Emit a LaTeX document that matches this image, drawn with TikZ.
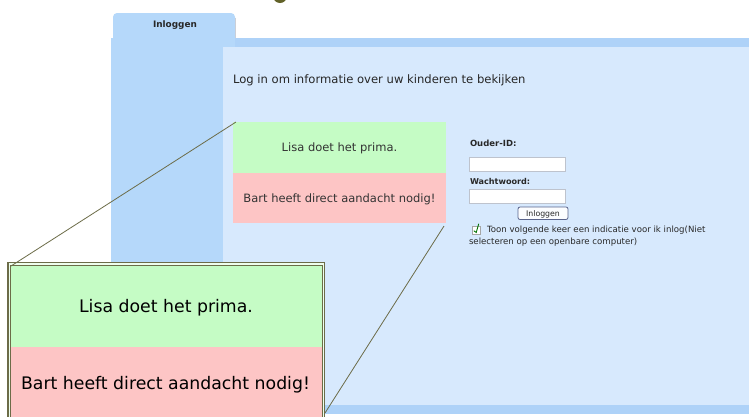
\documentclass[tikz,border=0pt]{standalone}
\usepackage{fontspec}
\setmainfont{DejaVu Sans}
\definecolor{outerblue}{RGB}{181,216,250}
\definecolor{bandblue}{RGB}{174,210,248}
\definecolor{innerblue}{RGB}{215,233,253}
\definecolor{okgreen}{RGB}{197,252,197}
\definecolor{badred}{RGB}{253,197,197}
\definecolor{olivel}{RGB}{108,108,72}
\definecolor{darkolive}{RGB}{98,98,40}
\definecolor{fieldgray}{RGB}{190,195,205}
\definecolor{btnborder}{RGB}{90,100,140}
\definecolor{txtgray}{RGB}{40,40,40}
\begin{document}
\begin{tikzpicture}[x=1pt,y=-1pt,
  panel/.style={draw=none,inner sep=0pt,outer sep=0pt,anchor=north west},
  txt/.style={anchor=base west,inner sep=0pt,outer sep=0pt,text=txtgray},
  ctxt/.style={anchor=base,inner sep=0pt,outer sep=0pt},
  field/.style={panel,fill=white,draw=fieldgray,line width=0.8pt},
  zoomline/.style={draw=olivel,line width=0.8pt}]
\useasboundingbox (0,0) rectangle (749,416);
\begin{scope}
\clip (0,0) rectangle (749,416);
\fill[white] (0,0) rectangle (749,416);
% partial glyph at top
\fill[darkolive] (280,-4) ellipse [x radius=7, y radius=7];
% tab
\path[fill=outerblue] (113,38) [rounded corners=4pt] -- (113,13) -- (235,13) [sharp corners] -- (235,38) -- cycle;
\draw[fieldgray!80,line width=0.8pt] (235,18) -- (235,38);
\node[ctxt,font=\bfseries\fontsize{8.9}{10}\selectfont,text=txtgray] (tab) at (175,27.5) {Inloggen};
% outer panel
\node[panel,fill=outerblue,minimum width=638pt,minimum height=376pt] (outer) at (111,38) {};
\node[panel,fill=bandblue,minimum width=514pt,minimum height=9pt] (band) at (235,37.5) {};
\node[panel,fill=bandblue,minimum width=526pt,minimum height=9pt] (bband) at (223,405) {};
% inner panel
\node[panel,fill=innerblue,minimum width=526pt,minimum height=358pt] (inner) at (223,47) {};
\node[txt,font=\fontsize{11.6}{14}\selectfont,text=black!85] (head) at (233,83.5) {Log in om informatie over uw kinderen te bekijken};
% small status boxes
\node[panel,fill=okgreen,minimum width=213pt,minimum height=51pt] (smallgreen) at (233,122) {};
\node[panel,fill=badred,minimum width=213pt,minimum height=50pt] (smallred) at (233,173) {};
\node[ctxt,font=\fontsize{11.5}{14}\selectfont,text=black!80] (sgt) at (339.5,151.5) {Lisa doet het prima.};
\node[ctxt,font=\fontsize{11.5}{14}\selectfont,text=black!80] (srt) at (339.5,202.5) {Bart heeft direct aandacht nodig!};
% login form
\node[txt,font=\bfseries\fontsize{8.5}{10}\selectfont] (lid) at (470,146) {Ouder-ID:};
\node[field,minimum width=96pt,minimum height=14pt] (fid) at (469,157) {};
\node[txt,font=\bfseries\fontsize{8.1}{10}\selectfont] (lpw) at (470,184) {Wachtwoord:};
\node[field,minimum width=96pt,minimum height=14pt] (fpw) at (469,189) {};
\node[panel,fill=white!92!innerblue,draw=btnborder,line width=0.8pt,rounded corners=2pt,minimum width=50pt,minimum height=12.5pt] (btn) at (518,207) {};
\node[ctxt,font=\fontsize{7.8}{9}\selectfont,text=txtgray] (btnt) at (btn.center) [yshift=-2.8pt] {Inloggen};
\node[field,draw=gray!70,minimum width=8.5pt,minimum height=8.5pt] (chk) at (472,226) {};
\draw[green!45!black,line width=0.9pt] ([xshift=1.8pt,yshift=-0.5pt]chk.west) -- ([yshift=-2.2pt]chk.center) -- ([xshift=-1.8pt,yshift=2.2pt]chk.north east);
\node[txt,font=\fontsize{8.6}{10}\selectfont] (opt1) at (487,232.7) {Toon volgende keer een indicatie voor ik inlog(Niet};
\node[txt,font=\fontsize{8.6}{10}\selectfont] (opt2) at (469,244.3) {selecteren op een openbare computer)};
% zoomed view
\node[panel,fill=okgreen,minimum width=311pt,minimum height=81pt] (biggreen) at (11,266) {};
\node[panel,fill=badred,minimum width=311pt,minimum height=80pt] (bigred) at (11,347) {};
\node[ctxt,font=\fontsize{17.3}{20}\selectfont,text=black] (bgt) at (166,312) {Lisa doet het prima.};
\node[ctxt,font=\fontsize{17.3}{20}\selectfont,text=black] (brt) at (165.5,389) {Bart heeft direct aandacht nodig!};
\draw[draw=olivel,line width=1.1pt,double=white!70!okgreen,double distance=1.6pt] (9.3,440) -- (9.3,263.8) -- (323.5,263.8) -- (323.5,440);
\coordinate (zoomnw) at (7,262);
\coordinate (zoomse) at (325,413);
% connector lines
\draw[zoomline] ([xshift=3pt]smallgreen.north west) -- ([xshift=4pt,yshift=-4pt]zoomnw);
\draw[zoomline] ([xshift=-2pt,yshift=-3pt]smallred.south east) -- (zoomse);
\end{scope}
\end{tikzpicture}
\end{document}
